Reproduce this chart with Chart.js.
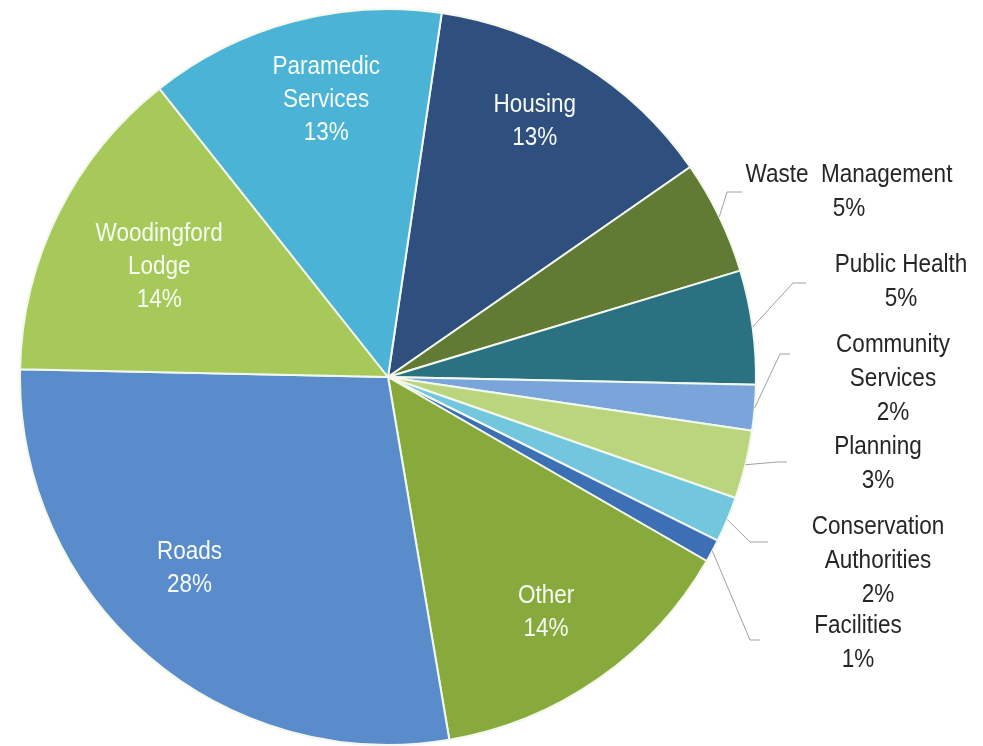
<!DOCTYPE html>
<html>
<head>
<meta charset="utf-8">
<title>Budget share by service</title>
<script src="https://cdn.jsdelivr.net/npm/chart.js"></script>
<style>
    html, body { margin: 0; padding: 0; background: #ffffff; }
    #wrap { width: 983px; height: 746px; position: relative; }
</style>
</head>
<body>
<div id="wrap"><canvas id="budgetPie"></canvas></div>
<script>
// Slices go clockwise starting with Housing
const services = [
    "Housing",
    "Waste  Management",
    "Public Health",
    "Community\nServices",
    "Planning",
    "Conservation\nAuthorities",
    "Facilities",
    "Other",
    "Roads",
    "Woodingford\nLodge",
    "Paramedic\nServices"
];
const shares = [13, 5, 5, 2, 3, 2, 1, 14, 28, 14, 13];
const sliceColors = [
    "#2f507e", "#627b34", "#2a7181", "#7aa5da", "#bad57e", "#72c6de",
    "#3d6fb5", "#88aa3d", "#5a8bcb", "#a6c95a", "#4bb3d6"
];

// where each label goes: inside labels sit along the slice, outside ones get a leader line
const labelPlaces = [
    { inside: true, turn: -1.9, frac: 0.80 },
    { inside: false, x: 849, y: 175, elbow: [727, 192], end: 742 },
    { inside: false, x: 901, y: 265, elbow: [793, 283], end: 806 },
    { inside: false, x: 893, y: 345, elbow: [780, 354], end: 790 },
    { inside: false, x: 878, y: 447, elbow: [777, 462], end: 787 },
    { inside: false, x: 878, y: 527, elbow: [750, 542], end: 768 },
    { inside: false, x: 858, y: 626, elbow: [750, 640], end: 760 },
    { inside: true, turn: 0.9, frac: 0.77 },
    { inside: true, turn: 5.2, frac: 0.75 },
    { inside: true, turn: -0.7, frac: 0.69 },
    { inside: true, turn: 2.4, frac: 0.77 }
];

// slightly condensed text, like the narrow office font
function narrowText(ctx, text, x, y) {
    ctx.save();
    ctx.translate(x, y);
    ctx.scale(0.9, 1);
    ctx.fillText(text, 0, 0);
    ctx.restore();
}

const sliceLabels = {
    id: 'sliceLabels',
    afterDatasetsDraw(chart) {
        const ctx = chart.ctx;
        const arcs = chart.getDatasetMeta(0).data;
        ctx.save();
        ctx.font = '25px "Liberation Sans", Arial, sans-serif';
        ctx.textAlign = 'center';
        ctx.textBaseline = 'middle';
        arcs.forEach((arc, i) => {
            const lines = services[i].split("\n").concat(shares[i] + "%");
            const place = labelPlaces[i];
            const mid = (arc.startAngle + arc.endAngle) / 2;
            const r = arc.outerRadius;
            if (place.inside) {
                const a = mid + place.turn * Math.PI / 180;
                const cx = arc.x + Math.cos(a) * r * place.frac;
                const cy = arc.y + Math.sin(a) * r * place.frac;
                const step = 33;
                ctx.fillStyle = '#f6fbf4';
                lines.forEach((t, k) => {
                    narrowText(ctx, t, cx, cy + (k - (lines.length - 1) / 2) * step);
                });
            } else {
                // leader from the slice edge to the label
                ctx.strokeStyle = '#a0a0a0';
                ctx.lineWidth = 1;
                ctx.beginPath();
                ctx.moveTo(arc.x + Math.cos(mid) * r, arc.y + Math.sin(mid) * r);
                ctx.lineTo(place.elbow[0], place.elbow[1]);
                ctx.lineTo(place.end, place.elbow[1]);
                ctx.stroke();
                ctx.fillStyle = '#262626';
                lines.forEach((t, k) => {
                    narrowText(ctx, t, place.x, place.y + k * 34);
                });
            }
        });
        ctx.restore();
    }
};

new Chart(document.getElementById('budgetPie'), {
    type: 'pie',
    data: {
        labels: services,
        datasets: [{
            data: shares,
            backgroundColor: sliceColors,
            borderColor: '#f3f8ec',
            borderWidth: 2
        }]
    },
    options: {
        responsive: true,
        maintainAspectRatio: false,
        animation: false,
        rotation: 8.4,
        layout: {
            padding: { left: 19, top: 8, right: 226, bottom: 0 }
        },
        plugins: {
            legend: { display: false },
            tooltip: { enabled: false }
        }
    },
    plugins: [sliceLabels]
});
</script>
</body>
</html>
